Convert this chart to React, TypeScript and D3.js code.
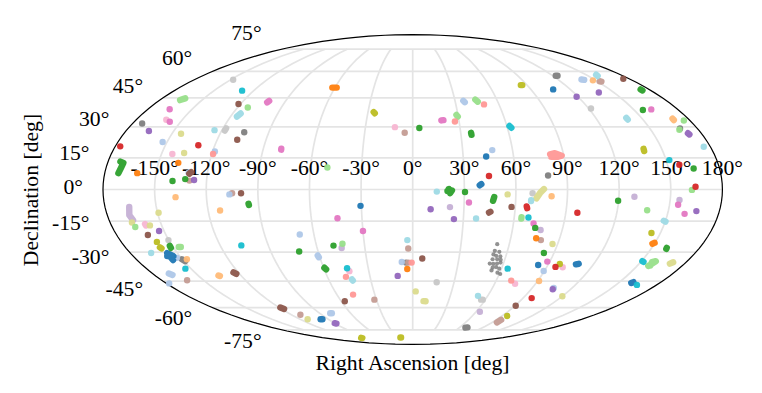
import React from "react";
import * as d3 from "d3";

type Pt = [number, number];
type Blob = Pt[];

// Clusters on the sky, [right ascension, declination] in degrees, one list per tab20 colour.
const blueBlobs: Blob[] = [
  [[-30.5, -7.7]], [[107, 49.6]], [[-100.4, -67.5], [-94, -67.5]], [[43.7, 15.6]], [[37.9, 1.3], [41, 3.2]],
  [[-158, -32], [-154, -32], [-156.5, -30.5], [-156.5, -34]], [[83.5, -36.5]], [[106.8, -36.5], [111.5, -35.6]],
  [[158.5, -46.5], [161, -45]],
];
const lightBlueBlobs: Blob[] = [
  [[-152.7, 22.6]], [[-118.6, 18]], [[-131, 7.9]], [[-106.6, -2.3]], [[-68.6, -21.4]], [[-61.4, -30.7], [-60.3, -33.6]],
  [[-152.7, -32.9]], [[-7.2, -35]], [[-169.7, -40.4], [-166.4, -42.2]], [[-178, -46.2]], [[-81.5, -63.5], [-76.3, -63.5]],
  [[137.5, 55.4], [143, 54.8]], [[35, 44.3], [37.5, 41.8]], [[47.8, 18.7]], [[89.5, -39.6]], [[106.2, -48.7]],
];
const orangeBlobs: Blob[] = [
  [[-64.2, 50.6], [-56.5, 50.6]], [[-161, 7.7]], [[-138.3, 12.6]], [[-3.7, -38.6]], [[75.6, -23.2]], [[147.5, -26.3], [151, -25]],
];
const lightOrangeBlobs: Blob[] = [
  [[-138, -3.6]], [[-113, -9.9]], [[-147, -33.6]], [[-136.4, -41.6], [-134.4, -42.6]], [[147.6, 54.7]],
  [[170, 35.1], [169.8, 32.6]], [[80.8, -3.2]], [[91, -44.9]],
];
const greenBlobs: Blob[] = [
  [[-172.7, 13.2], [-170.7, 12.6], [-171.2, 10.2], [-172, 7.7]], [[-139.8, 4]], [[-132.5, 4.9]], [[-96, -6], [-95.5, -8]],
  [[-151.4, -25.9], [-152, -29]], [[-72, -29.7]], [[-49.4, -26.8]], [[-60.4, -37], [-57.8, -39.7]],
  [[173.6, 50.3], [173.8, 48.3]], [[155.9, 38.6]], [[4.2, 29.5]], [[36.4, 28.2], [36.6, 25]], [[164.8, 9.9]],
  [[21, 0.2], [21.7, -1.7], [22.8, -0.4], [20.2, -0.7]], [[30.4, -1.2]], [[47.9, -2.3], [46.4, -6.6]], [[73.5, -18.2]],
  [[83.6, -30.5]], [[119.7, -5.3]], [[159.2, -27.3], [159.8, -29]],
];
const lightGreenBlobs: Blob[] = [
  [[-166.6, 43.3], [-162.5, 45.2]], [[-113, 39.9]], [[-50.1, 10.4]], [[-148, -27.5], [-143.6, -27.5]], [[-43.6, -25.9]],
  [[-166.2, -17.8]], [[43.6, 45], [47, 42]], [[28.2, 37], [30.5, 34.3]], [[176, 33.2]], [[168, 28.6]], [[162.3, -0.2]],
  [[64.3, -12.4], [64.3, -14.5]], [[137.5, -9.8]], [[157.4, -37], [159.4, -34.6], [157.5, -35.1], [158.5, -36.7]],
];
const redBlobs: Blob[] = [
  [[-177, 20.5]], [[-130, 21]], [[44.5, 6.4]], [[66.3, -7], [67.4, -9.8]], [[96.8, -11]], [[157, 11.7]], [[164.4, 1.3]],
  [[95.8, -37.5]], [[97, -54.4]],
];
const salmonBlobs: Blob[] = [
  [[-119.2, 16.8]], [[-47, -42.7]], [[-47.2, -52.4]], [[49.6, 41.5]], [[27.3, 32.7]],
  [[82, 16.6], [85, 17.2], [88.7, 16], [86.5, 15.5], [82.4, 15.5]], [[-0.7, -35.3]], [[70.8, -44.7]],
];
const purpleBlobs: Blob[] = [
  [[-165.6, 28]], [[-127.3, 4.5]], [[-153, -19.7]], [[-10.5, -42.2]], [[-91, -69.8], [-87.4, -70.8]], [[119, 45.6]],
  [[138.8, 47.9]], [[171.3, 27.6], [172.5, 25.6]], [[10.5, -9.3]], [[24.4, -14]], [[106.4, -49.4]], [[166.5, -10.2]],
];
const lilacBlobs: Blob[] = [
  [[-165.8, -8.2], [-167, -12.1], [-165.8, -14.5]], [[-44.6, -28]], [[21.8, -8.3]], [[77, -19.2]], [[129, -3.4]],
  [[155.4, -4.9]], [[63.6, -62.6]],
];
const brownBlobs: Blob[] = [
  [[-121.4, 41.7]], [[-107.7, 23.7]], [[-131.6, 6.6], [-128.6, 9]], [[-99.8, -1.8]], [[-161, -21.6]],
  [[-124.3, -39.7], [-121.3, -41.8]], [[-57, -56.2]], [[-119.6, -59.3], [-116.6, -61.5]], [[175, 55.6]], [[6.2, -33.2]],
  [[57.8, -8.2]], [[43.9, -11.3], [46.6, -10.1]], [[90.6, -58.9]],
];
const tanBlobs: Blob[] = [
  [[-5, 27.1]], [[-105, -1.8]], [[-130, 4.2]], [[-161.8, -44.5]], [[-2.8, -28.2]], [[-2.9, -35.3]], [[-31.7, -55.3]],
  [[-111, -64.5]], [[150.8, 54.4], [154.1, 53.8]], [[78.8, -24.1]], [[95.5, -70.6], [95.3, -66.9]],
];
const pinkBlobs: Blob[] = [
  [[-103, 41.7], [-101, 44.2]], [[-165.2, 39]], [[-157, 32.6]], [[-79.3, 20], [-79, 18.3]], [[-44.5, -13.6]], [[-30, -19.7]],
  [[17, 33.1], [21.6, 33.6]], [[162, 38.9]], [[32.8, -6.1]], [[72, -16.1]], [[88.4, -34.8]], [[155, -7.2]], [[160, -11.5]],
];
const lightPinkBlobs: Blob[] = [
  [[-160.4, 33.6]], [[-11.3, 29.9]], [[-143.5, 16.8]], [[-159.8, -15.6], [-159.2, -17.8]], [[-43.3, -39.7]], [[100.8, -37.7]], [[75, -46.4]],
];
const greyBlobs: Blob[] = [
  [[-173.8, 31.7]], [[-105.4, 27.4]], [[-151, -32.9], [-148.3, -35.3]], [[-4.4, -35.3]], [[120.7, 57.4], [125.8, 57.4]],
  [[169, 29.2]], [[79, 6.6]], [[65, -73.5], [72.6, -73]],
];
const lightGreyBlobs: Blob[] = [
  [[-148, 55.1]], [[-118.2, 27], [-118, 30.5]], [[-150.2, -24.1]], [[121.6, 39.4]], [[69.7, -1.8]], [[17.4, -45.6]], [[55, -55.3], [59.5, -55.3]],
];
const oliveBlobs: Blob[] = [
  [[-27.2, 38.2], [-24.3, 36.2]], [[-158, -25]], [[-158.9, -27], [-157.3, -28.8]], [[-105, -81.5], [-102.6, -82.2]],
  [[-26, -81.5], [-21.4, -81.5]], [[83.7, 52], [87.6, 52]], [[139.3, 20.5], [138.7, 17]], [[144.6, -20.7]], [[97.5, -36]], [[95.2, -65.3]],
];
const paleOliveBlobs: Blob[] = [
  [[-144.3, 26.6]], [[-136.7, 17.3]], [[-149.4, -11]], [[-167, -15.6]], [[-157, -17]], [[-112, -67.5]], [[55.2, -2.3]],
  [[72, -4.2], [74, -1.7], [76.3, 0.2]], [[86.8, -26]], [[2.3, -50.6]], [[7, -56.1], [12.9, -56.3]], [[169.3, -36.4], [172.5, -34.6]], [[120, -53.3]],
];
const cyanBlobs: Blob[] = [
  [[-128.8, 48.9]], [[-106.8, -26.7]], [[-153.7, -38.4]], [[-44.3, -38.2]], [[60.8, 31.5], [63.4, 28.6]], [[151.9, 13.9]],
  [[68.4, -13.2]], [[64.2, -38.4]], [[149.3, -34.2], [153, -35.3]], [[165.4, -47]],
];
const lightCyanBlobs: Blob[] = [
  [[-116.4, 34.3], [-114.2, 37.7]], [[-124.7, 28.4]], [[-166.7, -30.5]], [[-3.3, -24.1]], [[-43.8, -43.3], [-42.6, -45.4]],
  [[159.8, 58.9], [157.2, 56.4]], [[140, 35.6], [140.2, 32.7]], [[176, 20.3]], [[14, -1]], [[37.5, -13.7]], [[69, -4.5], [69, -6]],
  [[52.2, -53.1]], [[147.6, -14.3], [151.6, -15.7]],
];
// The dense grey group of small points near RA 55, Dec -34.
const greyGroup: Pt[] = [
  [52.5, -26.1], [52, -29.4], [55, -29.9], [51.7, -31.2], [53.7, -31.9], [56.5, -32.2], [52, -33.6], [55, -33.6], [57.4, -33.9],
  [51, -35.8], [53.4, -36], [55.8, -35.8], [57.9, -35.3], [53.8, -37.9], [56, -37.6], [58.5, -38.4], [53.7, -39.3], [58.4, -40.5], [60.7, -41.2],
];

const seriesList: [Blob[], string][] = [
  [lightGreyBlobs, "#c7c7c7"], [greyBlobs, "#7f7f7f"], [lightPinkBlobs, "#f7b6d2"], [tanBlobs, "#c49c94"], [lilacBlobs, "#c5b0d5"],
  [paleOliveBlobs, "#dbdb8d"], [lightBlueBlobs, "#aec7e8"], [lightCyanBlobs, "#9edae5"], [lightGreenBlobs, "#98df8a"], [lightOrangeBlobs, "#ffbb78"],
  [salmonBlobs, "#ff9896"], [brownBlobs, "#8c564b"], [purpleBlobs, "#9467bd"], [pinkBlobs, "#e377c2"], [oliveBlobs, "#bcbd22"],
  [blueBlobs, "#1f77b4"], [orangeBlobs, "#ff7f0e"], [greenBlobs, "#2ca02c"], [redBlobs, "#d62728"], [cyanBlobs, "#17becf"],
];

const raTicks = [-150, -120, -90, -60, -30, 0, 30, 60, 90, 120, 150, 180];
const raGrid = [-150, -120, -90, -60, -30, 0, 30, 60, 90, 120, 150];
const decTicks = [75, 60, 45, 30, 15, 0, -15, -30, -45, -60, -75];
const decBaseline = [-8.8, -6.7, -4.5, -1, 2, 4.8, 9, 12, 14.7, 17.7, 18];
const raLabel = "Right Ascension [deg]";
const decLabel = "Declination [deg]";

function mollweideRaw(lambda: number, phi: number): [number, number] {
  const target = Math.PI * Math.sin(phi);
  let t = phi;
  if (Math.abs(Math.abs(phi) - Math.PI / 2) > 1e-9) {
    for (let i = 0; i < 40; i++) {
      const d = (2 * t + Math.sin(2 * t) - target) / (2 + 2 * Math.cos(2 * t));
      t -= d;
      if (Math.abs(d) < 1e-9) break;
    }
  }
  return [(2 * Math.SQRT2 / Math.PI) * lambda * Math.cos(t), Math.SQRT2 * Math.sin(t)];
}

const W = 762;
const H = 393;
const FONT = "'Liberation Serif', 'Times New Roman', serif";
const FS = 21.7;
const BLOB = 6.4;

export default function App() {
  const projection = d3.geoProjection(mollweideRaw as any).scale(109.5).translate([412.7, 189.5]).precision(0.1);
  const sphere = d3.geoPath(projection)({ type: "Sphere" }) || "";
  const P = (p: Pt): Pt => projection(p) as Pt;
  const line = d3.line<Pt>().x((d) => P(d)[0]).y((d) => P(d)[1]);
  const pixelLine = d3.line<Pt>();
  const meridian = (ra: number): Pt[] => d3.range(-75, 75.01, 2.5).map((dec) => [ra, dec] as Pt);
  const parallel = (dec: number): Pt[] => [[-180, dec], [180, dec]];

  // The listed ends of an elongated cluster are its outer edges: pull them in by the round cap.
  const blobPath = (b: Blob): string => {
    const pts = b.map(P);
    if (pts.length === 1) return `M${pts[0].join(",")}l0.01,0`;
    if (pts.length === 2) {
      const [a, c] = pts;
      const dx = c[0] - a[0];
      const dy = c[1] - a[1];
      const L = Math.hypot(dx, dy) || 1;
      const cut = Math.min(BLOB / 2 - 0.4, L * 0.35);
      const ux = (dx / L) * cut;
      const uy = (dy / L) * cut;
      return pixelLine([[a[0] + ux, a[1] + uy], [c[0] - ux, c[1] - uy]]) || "";
    }
    return pixelLine(pts) || "";
  };

  return (
    <svg
      width={W}
      height={H}
      viewBox={`0 0 ${W} ${H}`}
      style={{ position: "absolute", left: 0, top: 0, background: "#fff" }}
    >
      <g fill="none" stroke="#e4e4e4" strokeWidth={1.7}>
        {decTicks.map((d) => <path key={d} d={line(parallel(d)) || ""} />)}
        {raGrid.map((r) => <path key={r} d={line(meridian(r)) || ""} />)}
      </g>
      <path d={sphere} fill="none" stroke="#000" strokeWidth={1.2} />
      <g fontFamily={FONT} fontSize={FS} fill="#000">
        {raTicks.map((r) => {
          const [x] = P([r, 0]);
          return <text key={r} x={x} y={175} textAnchor="middle">{`${r}°`}</text>;
        })}
        {decTicks.map((d, i) => {
          const [x, y] = P([-180, d]);
          return <text key={d} x={x - 20} y={y + decBaseline[i]} textAnchor="end">{`${d}°`}</text>;
        })}
        <text x={412.5} y={369.5} textAnchor="middle">{raLabel}</text>
        <text transform="translate(38,190) rotate(-90)" textAnchor="middle">{decLabel}</text>
      </g>
      <g>
        {greyGroup.map((p, i) => {
          const [x, y] = P(p);
          return <circle key={i} cx={x} cy={y} r={2.1} fill="#7f7f7f" fillOpacity={0.85} />;
        })}
      </g>
      <g fill="none" strokeLinecap="round" strokeLinejoin="round" strokeWidth={BLOB} strokeOpacity={0.95}>
        {seriesList.map(([blobs, color], s) =>
          blobs.map((b, i) => <path key={`${s}-${i}`} d={blobPath(b)} stroke={color} />)
        )}
      </g>
    </svg>
  );
}
